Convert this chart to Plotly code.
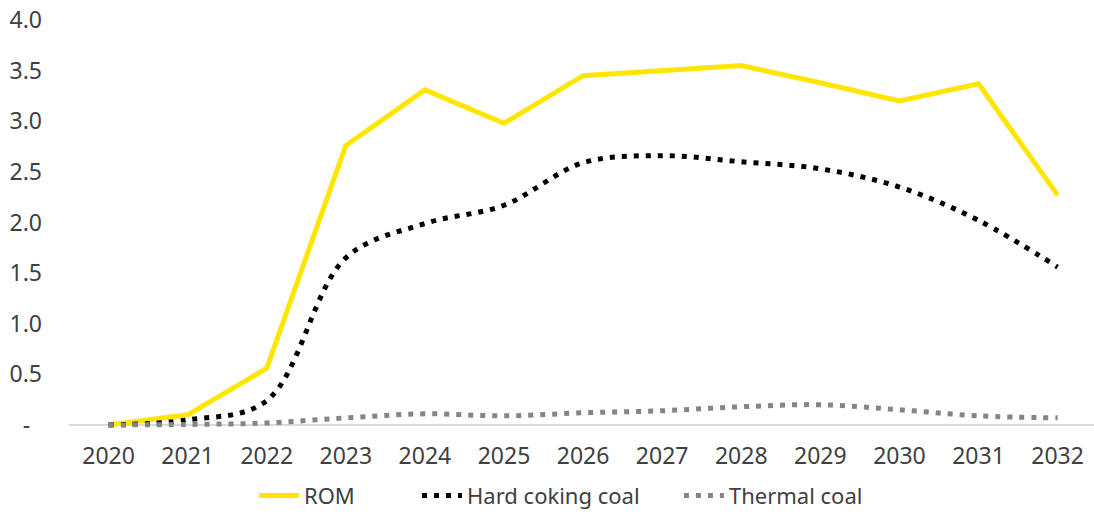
import plotly.graph_objects as go

# Production profile by year (Mt)
years = ["2020", "2021", "2022", "2023", "2024", "2025", "2026",
         "2027", "2028", "2029", "2030", "2031", "2032"]
rom = [0.0, 0.10, 0.56, 2.76, 3.31, 2.98, 3.45, 3.50, 3.55, 3.38, 3.20, 3.37, 2.27]
hard_coking_coal = [0.0, 0.05, 0.24, 1.65, 1.99, 2.17, 2.59, 2.66, 2.60, 2.53, 2.35, 2.02, 1.56]
thermal_coal = [0.0, 0.005, 0.02, 0.07, 0.11, 0.09, 0.12, 0.14, 0.18, 0.20, 0.15, 0.09, 0.07]

y_tick_vals = [0, 0.5, 1.0, 1.5, 2.0, 2.5, 3.0, 3.5, 4.0]
y_tick_text = ["-\u00a0\u00a0", "0.5", "1.0", "1.5", "2.0", "2.5", "3.0", "3.5", "4.0"]

FONT = "Noto Sans"
TEXT_COLOR = "#404040"
PAD = "\u00a0"

fig = go.Figure()
fig.add_trace(go.Scatter(
    x=years, y=rom, name="ROM" + PAD * 10, mode="lines",
    line=dict(color="#FFE600", width=5),
))
fig.add_trace(go.Scatter(
    x=years, y=hard_coking_coal, name="Hard coking coal" + PAD * 6, mode="lines",
    line=dict(color="#000000", width=5, dash="5px,7px", shape="spline", smoothing=1),
))
fig.add_trace(go.Scatter(
    x=years, y=thermal_coal, name="Thermal coal", mode="lines",
    line=dict(color="#858585", width=5, dash="5px,7px", shape="spline", smoothing=1),
))

fig.update_layout(
    width=1094, height=514,
    margin=dict(l=69, r=0, t=20, b=85, autoexpand=False),
    paper_bgcolor="white", plot_bgcolor="white",
    font=dict(family=FONT, size=22, color=TEXT_COLOR),
    showlegend=True,
    legend=dict(
        orientation="h", x=0.48, xanchor="center", y=-0.163, yanchor="middle",
        font=dict(family=FONT, size=22, color=TEXT_COLOR),
        itemwidth=40, traceorder="normal",
    ),
    xaxis=dict(
        type="category", range=[-0.5, 12.46],
        showgrid=False, showline=False, zeroline=False,
        ticks="", ticklabelstandoff=11,
        tickfont=dict(family=FONT, size=23, color=TEXT_COLOR),
    ),
    yaxis=dict(
        range=[-0.04, 4.0],
        tickvals=y_tick_vals, ticktext=y_tick_text,
        showgrid=False, showline=False,
        zeroline=True, zerolinecolor="#d9d9d9", zerolinewidth=2,
        ticks="", ticklabelstandoff=26,
        tickfont=dict(family=FONT, size=23, color=TEXT_COLOR),
    ),
)

fig.write_html("out.html")
